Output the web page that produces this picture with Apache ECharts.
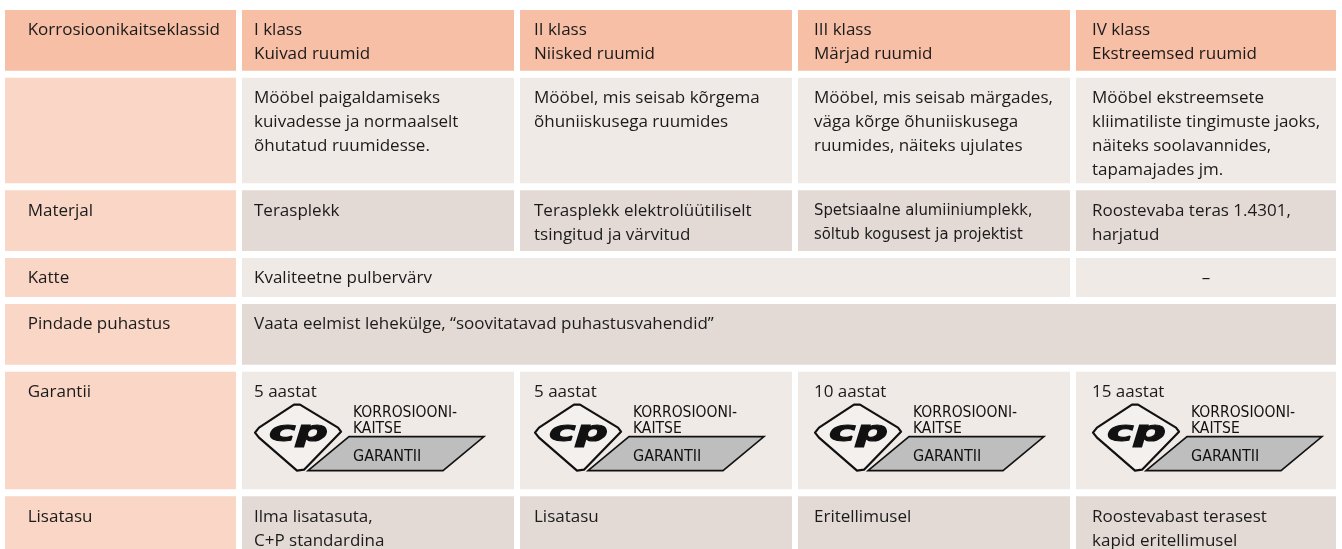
<!DOCTYPE html>
<html><head><meta charset="utf-8">
<script src="https://cdn.jsdelivr.net/npm/echarts@6/dist/echarts.min.js"></script>
<style>html,body{margin:0;padding:0;background:#fff}#c{width:1342px;height:549px}</style>
</head><body><div id="c"></div>
<script>
// ---- content ----
const rowLabels = ['Korrosioonikaitseklassid', '', 'Materjal', 'Katte', 'Pindade puhastus', 'Garantii', 'Lisatasu'];
const classNames = ['I klass\nKuivad ruumid', 'II klass\nNiisked ruumid', 'III klass\nMärjad ruumid', 'IV klass\nEkstreemsed ruumid'];
const descriptions = [
  'Mööbel paigaldamiseks\nkuivadesse ja normaalselt\nõhutatud ruumidesse.',
  'Mööbel, mis seisab kõrgema\nõhuniiskusega ruumides',
  'Mööbel, mis seisab märgades,\nväga kõrge õhuniiskusega\nruumides, näiteks ujulates',
  'Mööbel ekstreemsete\nkliimatiliste tingimuste jaoks,\nnäiteks soolavannides,\ntapamajades jm.'
];
const materials = ['Terasplekk', 'Terasplekk elektrolüütiliselt\ntsingitud ja värvitud', 'Spetsiaalne alumiiniumplekk,\nsõltub kogusest ja projektist', 'Roostevaba teras 1.4301,\nharjatud'];
const coatings = ['Kvaliteetne pulbervärv', '–'];
const coatingSpans = [3, 1];
const cleaning = ['Vaata eelmist lehekülge, “soovitatavad puhastusvahendid”'];
const warrantyYears = [5, 5, 10, 15];
const warrantyUnit = 'aastat';
const logoMark = 'cp';
const logoTop = 'KORROSIOONI-\nKAITSE';
const logoBottom = 'GARANTII';
const surcharges = ['Ilma lisatasuta,\nC+P standardina', 'Lisatasu', 'Eritellimusel', 'Roostevabast terasest\nkapid eritellimusel'];

// ---- layout (sizes in px) ----
const colWidths = [231, 272, 272, 272, 260];
const colGap = 6;
const rowHeights = [61, 106, 61, 39, 61, 118, 53];
const rowGap = 7;
const textPad = [22.7, 12, 14, 16, 16];
const colStart = []; { let s = 0; colWidths.forEach((w) => { colStart.push(s); s += w + colGap; }); }
const rowTop = []; { let s = 0; rowHeights.forEach((h) => { rowTop.push(s); s += h + rowGap; }); }
const totalW = colStart[4] + colWidths[4];
const totalH = rowTop[6] + rowHeights[6];

const C_HEAD = '#F6BFA6', C_LABEL = '#F9D6C5', C_LIGHT = '#F0EAE7', C_DARK = '#E3DAD5', C_TEXT = '#1b1b1b';
const FONT = '"Open Sans", "Noto Sans", sans-serif';
const FS = 17;
const CONDENSED = '"Liberation Sans Narrow", "DejaVu Sans Condensed", "Roboto Condensed", sans-serif';

// ---- build cells ----
const cells = [];
rowLabels.forEach((t, r) => cells.push({ row: r, col: 0, span: 1, text: t, fill: r === 0 ? C_HEAD : C_LABEL }));
const rowFill = [C_HEAD, C_LIGHT, C_DARK, C_LIGHT, C_DARK, C_LIGHT, C_DARK];
classNames.forEach((t, i) => cells.push({ row: 0, col: i + 1, span: 1, text: t, fill: rowFill[0] }));
descriptions.forEach((t, i) => cells.push({ row: 1, col: i + 1, span: 1, text: t, fill: rowFill[1] }));
materials.forEach((t, i) => cells.push({ row: 2, col: i + 1, span: 1, text: t, fill: rowFill[2], small: i === 2 }));
{ let c = 1; coatings.forEach((t, i) => { cells.push({ row: 3, col: c, span: coatingSpans[i], text: t, fill: rowFill[3], center: t === '–' }); c += coatingSpans[i]; }); }
cleaning.forEach((t) => cells.push({ row: 4, col: 1, span: 4, text: t, fill: rowFill[4] }));
warrantyYears.forEach((y, i) => cells.push({ row: 5, col: i + 1, span: 1, text: y + ' ' + warrantyUnit, fill: rowFill[5], logo: true }));
surcharges.forEach((t, i) => cells.push({ row: 6, col: i + 1, span: 1, text: t, fill: rowFill[6] }));

function logoGroup(tx, ty) {
  const P = (dx, dy) => [tx + dx, ty + dy];
  return [
    { type: 'polygon', shape: { points: [P(1, 61), P(5, 56), P(40, 33), P(46, 33), P(84, 56), P(87, 60), P(50, 98), P(43, 99), P(5, 66)] },
      style: { fill: 'rgba(255,255,255,0.3)', stroke: '#111', lineWidth: 2.2, lineJoin: 'round' } },
    { type: 'text', x: tx + 44.5, y: ty + 62, scaleX: 1.55, scaleY: 1,
      style: { text: logoMark, x: 0, y: 0, align: 'center', verticalAlign: 'middle',
        font: 'italic 900 29px "DejaVu Sans", sans-serif', fill: '#111', stroke: '#111', lineWidth: 1.2 } },
    { type: 'polygon', shape: { points: [P(54, 99), P(95, 65), P(230, 65), P(189, 99)] },
      style: { fill: '#BEBEBE', stroke: '#111', lineWidth: 1.6, lineJoin: 'miter' } },
    { type: 'text', style: { text: logoTop, x: tx + 99, y: ty + 33, verticalAlign: 'top', lineHeight: 16.5,
        font: '15.5px ' + CONDENSED, fill: '#111' } },
    { type: 'text', style: { text: logoBottom, x: tx + 99, y: ty + 75, verticalAlign: 'top', lineHeight: 20,
        font: '16px ' + CONDENSED, fill: '#111' } }
  ];
}

function renderItem(params, api) {
  const c = cells[params.dataIndex];
  const col0 = api.value(0), row = api.value(1), span = api.value(2);
  const lastCol = col0 + span - 1;
  const x0 = colStart[col0], x1 = colStart[lastCol] + colWidths[lastCol];
  const y0 = rowTop[row], y1 = y0 + rowHeights[row];
  const p0 = api.coord([x0, y0]), p1 = api.coord([x1, y1]);
  const children = [{ type: 'rect', shape: { x: p0[0], y: p0[1], width: p1[0] - p0[0], height: p1[1] - p0[1] }, style: { fill: c.fill } }];
  const tx = c.center ? (p0[0] + p1[0]) / 2 : p0[0] + textPad[col0];
  const ty = p0[1] + 8.5;
  if (c.text) {
    children.push({ type: 'text', style: {
      text: c.text, x: tx, y: ty, align: c.center ? 'center' : 'left', verticalAlign: 'top',
      lineHeight: 24, font: c.small ? ('16.5px ' + CONDENSED) : (FS + 'px ' + FONT), fill: C_TEXT } });
  }
  if (c.logo) children.push(...logoGroup(tx, p0[1]));
  return { type: 'group', children };
}

const chart = echarts.init(document.getElementById('c'), null, { renderer: 'canvas' });
chart.setOption({
  animation: false,
  grid: { left: 5, top: 10, width: totalW, height: totalH },
  xAxis: { type: 'value', min: 0, max: totalW, show: false },
  yAxis: { type: 'value', min: 0, max: totalH, inverse: true, show: false },
  series: [{
    type: 'custom', clip: false, renderItem,
    data: cells.map(c => [c.col, c.row, c.span])
  }]
});
</script></body></html>
